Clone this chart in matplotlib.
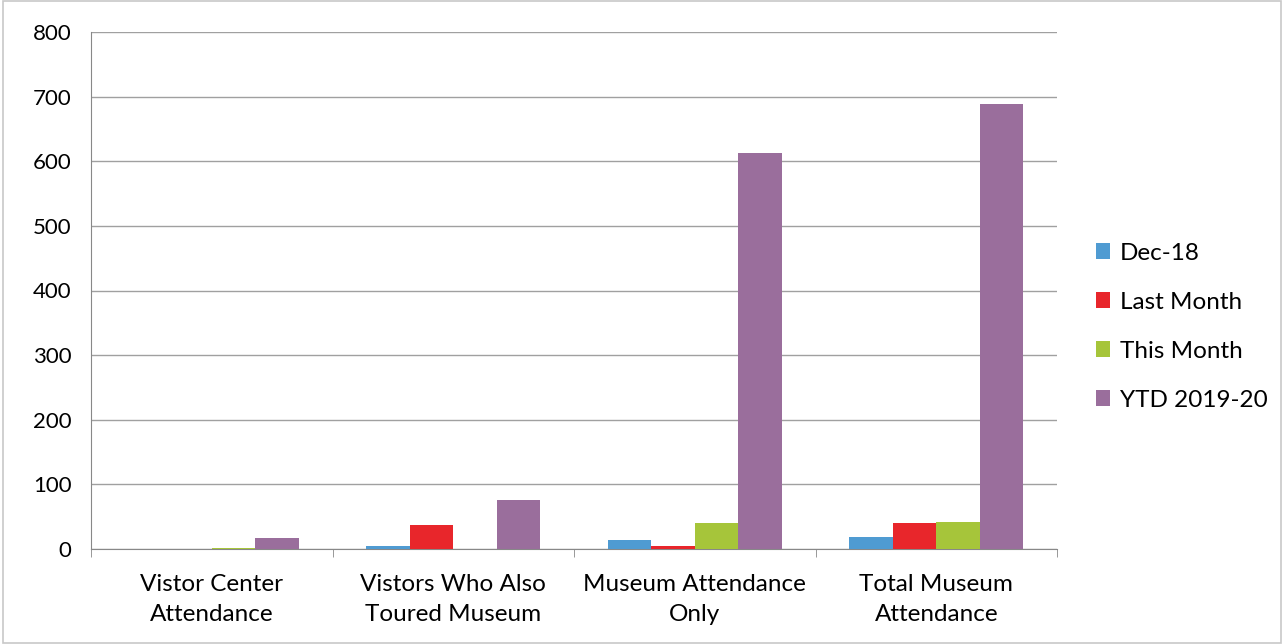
import numpy as np
import matplotlib.pyplot as plt

categories = ['Vistor Center\nAttendance', 'Vistors Who Also\nToured Museum',
              'Museum Attendance\nOnly', 'Total Museum\nAttendance']
series = ['Dec-18', 'Last Month', 'This Month', 'YTD 2019-20']
dec18 = [0, 4, 14, 19]
last_month = [0, 37, 5, 41]
this_month = [2, 0, 41, 42]
ytd = [17, 76, 613, 689]
colors = ['#4f9bd2', '#e8262b', '#a6c53a', '#9a6e9c']

plt.rcParams['font.family'] = ['Lato', 'DejaVu Sans']

fig = plt.figure(figsize=(12.84, 6.44), dpi=100)
ax = fig.add_axes([91/1284, 1-549/644, (1057-91)/1284, (549-32)/644])

x = np.arange(len(categories))
w = 0.18
for i, (name, vals) in enumerate(zip(series, [dec18, last_month, this_month, ytd])):
    ax.bar(x + (i - 1.5) * w, vals, w, color=colors[i], label=name, zorder=3)

ax.set_xlim(-0.5, 3.5)
ax.set_ylim(0, 800)
ax.set_yticks(range(0, 801, 100))
ax.yaxis.grid(True, color='#a0a0a0', lw=1, zorder=0)
ax.set_xticks(x)
ax.set_xticklabels(categories, fontsize=17.5, linespacing=1.55)
ax.set_xticks(np.arange(-0.5, 4, 1), minor=True)
ax.tick_params(axis='x', which='major', length=0, pad=18)
ax.tick_params(axis='x', which='minor', length=6, color='#888888')
ax.tick_params(axis='y', length=0, labelsize=16, pad=14)
for s in ['top', 'right']:
    ax.spines[s].set_visible(False)
for s in ['left', 'bottom']:
    ax.spines[s].set_color('#888888')

ax.legend(loc='center left', bbox_to_anchor=(1.03, 0.43), frameon=False,
          fontsize=17.5, handlelength=0.6, handleheight=0.6, handletextpad=0.4,
          labelspacing=1.15, borderaxespad=0)

fig.patches.append(plt.Rectangle((0.002, 0.002), 0.996, 0.996, transform=fig.transFigure,
                                 fill=False, edgecolor='#c8c8c8', lw=1.2))

plt.savefig('out.png', dpi=100)
